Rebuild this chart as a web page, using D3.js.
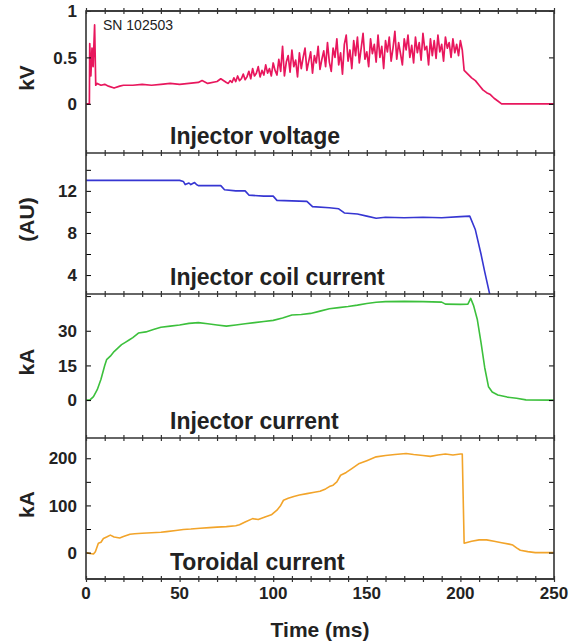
<!DOCTYPE html>
<html>
<head>
<meta charset="utf-8">
<script src="https://cdn.jsdelivr.net/npm/d3@7"></script>
<style>
	body { margin: 0; background: #fff; }
	svg { display: block; font-family: "Liberation Sans", Arial, sans-serif; }
</style>
</head>
<body>
<div id="wrapper"></div>
<script>
/////////////////////////////////////////////////
// data /////////////////////////////////////////
/////////////////////////////////////////////////

const shotLabel = "SN 102503";
const timeTicks = [0, 50, 100, 150, 200, 250];

// injector voltage (kV): slow part as [ms, kV]
const voltageStart = [
	[0, 0], [1.8, 0], [2, 0.65], [2.6, 0.3], [3.2, 0.6], [3.8, 0.4], [4.6, 0.85], [5.2, 0.2],
	[6, 0.22], [8, 0.2], [10, 0.21], [12, 0.19], [15, 0.17], [18, 0.19], [20, 0.2], [25, 0.2],
	[30, 0.21], [35, 0.2], [40, 0.21], [45, 0.22], [50, 0.21], [55, 0.22], [60, 0.23], [62, 0.25],
	[65, 0.22], [70, 0.24], [72, 0.27], [75, 0.23]
];
// bursty part, one sample per ms starting at 76 ms
const burstStart = 76;
const voltageBurst = [
	0.22, 0.25, 0.23, 0.28, 0.24, 0.30, 0.25, 0.27, 0.32, 0.26,
	0.29, 0.35, 0.27, 0.38, 0.30, 0.33, 0.40, 0.29, 0.36, 0.31,
	0.42, 0.33, 0.38, 0.30, 0.44, 0.36, 0.31, 0.48, 0.35, 0.62,
	0.30, 0.45, 0.52, 0.34, 0.58, 0.40, 0.47, 0.29, 0.55, 0.38,
	0.50, 0.60, 0.36, 0.46, 0.56, 0.33, 0.52, 0.44, 0.62, 0.37,
	0.48, 0.57, 0.40, 0.66, 0.45, 0.35, 0.60, 0.50, 0.70, 0.42,
	0.55, 0.32, 0.64, 0.74, 0.46, 0.58, 0.38, 0.68, 0.52, 0.72,
	0.44, 0.60, 0.76, 0.48, 0.56, 0.40, 0.70, 0.54, 0.64, 0.45,
	0.74, 0.50, 0.62, 0.38, 0.68, 0.56, 0.72, 0.46, 0.60, 0.78,
	0.48, 0.66, 0.54, 0.42, 0.70, 0.58, 0.74, 0.50, 0.63, 0.44,
	0.72, 0.55, 0.66, 0.47, 0.76, 0.58, 0.62, 0.42, 0.70, 0.52,
	0.68, 0.49, 0.74, 0.56, 0.64, 0.46, 0.72, 0.60, 0.66, 0.50,
	0.70, 0.55, 0.64, 0.52, 0.68, 0.58
];
const voltageEnd = [
	[202, 0.36], [204, 0.32], [206, 0.28], [208, 0.25], [210, 0.2], [212, 0.15], [214, 0.12],
	[216, 0.1], [218, 0.06], [220, 0.03], [222, 0], [250, 0]
];

// injector coil current (AU)
const coilCurrent = [
	[0, 13.0], [50, 13.0], [52, 12.9], [53, 12.6], [55, 12.75], [56, 12.6], [58, 12.8], [59, 12.6],
	[60, 12.5], [72, 12.5], [74, 12.1], [80, 12.0], [85, 12.0], [87, 11.6], [95, 11.5], [100, 11.5],
	[102, 11.1], [110, 11.05], [118, 11.0], [121, 10.5], [130, 10.4], [135, 10.3], [138, 9.9],
	[145, 9.8], [150, 9.6], [155, 9.4], [160, 9.5], [170, 9.45], [180, 9.5], [190, 9.45],
	[200, 9.55], [205, 9.6], [208, 8.3], [211, 6.0], [213, 4.3], [216, 1.9]
];

// injector current (kA)
const injectorCurrent = [
	[0, 0], [2, 0], [4, 1.5], [6, 4.5], [8, 9], [10, 15], [11, 17.5], [13, 19], [15, 21], [17, 22.5],
	[19, 24], [21, 25], [23, 26], [25, 27], [28, 29], [32, 29.5], [36, 30.5], [40, 31.5], [45, 32],
	[50, 32.5], [55, 33.2], [60, 33.5], [65, 33], [70, 32.5], [75, 32], [80, 32.5], [85, 33],
	[90, 33.5], [95, 34], [100, 34.5], [105, 35.5], [110, 36.8], [115, 37], [120, 37.5],
	[125, 38.5], [130, 39.5], [135, 40], [140, 40.5], [145, 41.1], [150, 41.8], [155, 42.3],
	[160, 42.6], [170, 42.7], [180, 42.6], [190, 42.4], [192, 41.5], [200, 41.4], [204, 41.5],
	[205.5, 44], [207, 41], [209, 35], [211, 25], [213, 14], [215, 5.8], [217, 3.5], [220, 2.2],
	[225, 1.3], [230, 0.8], [235, 0.1], [250, 0]
];

// toroidal current (kA)
const toroidalCurrent = [
	[0, 0], [2, -2], [4, -3], [5, 2], [6.6, 20], [8, 22], [9.3, 30], [11, 33], [13, 37], [15, 33],
	[18, 31], [20, 34], [23.5, 39], [26, 40], [30, 41], [35, 42], [40, 43], [43, 44.5], [48, 47],
	[52, 49], [56, 50], [61, 51.7], [66, 53], [70, 54], [75, 55], [80, 57], [82, 59], [85, 65],
	[89, 72], [92, 70], [96, 76], [99, 80], [102, 90], [104, 100], [105.5, 111], [108, 115],
	[111, 119], [114, 122], [118, 125], [122, 128], [125, 130], [128, 135], [130, 140], [132, 143],
	[134, 150], [136, 164], [139, 170], [142, 178], [146, 189], [150, 195], [155, 203], [160, 206],
	[165, 208], [171, 210], [175, 208], [180, 206], [184, 204], [188, 207], [192, 209], [196, 207],
	[200, 209], [201, 209], [202, 20], [206, 24], [210, 27], [214, 27], [218, 24], [222, 21],
	[226, 18], [228, 16], [230, 10], [232, 5], [236, 2], [240, 0], [250, 0]
];

const voltage = voltageStart
	.concat(voltageBurst.map((v, i) => [burstStart + i, v]))
	.concat(voltageEnd);

const panelLabels = ["Injector voltage", "Injector coil current", "Injector current", "Toroidal current"];
const unitLabels = ["kV", "(AU)", "kA", "kA"];
const yDomains = [[-0.53, 1], [2.2, 15.6], [-16.4, 45.9], [-56, 243]];
const yTickLabels = [[0, 0.5, 1], [4, 8, 12], [0, 15, 30], [0, 100, 200]];
const yTickMarks = [[0, 0.5, 1], [4, 6, 8, 10, 12, 14], [0, 15, 30, 45], [0, 50, 100, 150, 200]];
const seriesColors = ["#e8175d", "#3636d2", "#3cc03c", "#f2a42a"];

const series = [voltage, coilCurrent, injectorCurrent, toroidalCurrent];

/////////////////////////////////////////////////
// dimensions ///////////////////////////////////
/////////////////////////////////////////////////

const width = 582;
const height = 643;
const left = 86;
const right = 554;
const panelEdges = [11, 153, 294, 438, 579];

const svg = d3.select("#wrapper").append("svg")
	.attr("width", width)
	.attr("height", height);

const xScale = d3.scaleLinear().domain([0, 250]).range([left, right]);

/////////////////////////////////////////////////
// panels ///////////////////////////////////////
/////////////////////////////////////////////////

const defs = svg.append("defs");

series.forEach((data, i) => {
	const top = panelEdges[i];
	const bottom = panelEdges[i + 1];

	const yScale = d3.scaleLinear().domain(yDomains[i]).range([bottom, top]);

	defs.append("clipPath").attr("id", "clip" + i)
		.append("rect")
		.attr("x", left).attr("y", top)
		.attr("width", right - left).attr("height", bottom - top);

	const g = svg.append("g").attr("class", "panel");

	// trace
	const line = d3.line()
		.x((d) => xScale(d[0]))
		.y((d) => yScale(d[1]));

	g.append("path")
		.datum(data)
		.attr("clip-path", `url(#clip${i})`)
		.attr("fill", "none")
		.attr("stroke", seriesColors[i])
		.attr("stroke-width", i === 0 ? 1.7 : 1.6)
		.attr("stroke-linejoin", "round")
		.attr("d", line);

	// y ticks, inward on both sides
	const leftAxis = d3.axisRight(yScale)
		.tickValues(yTickMarks[i])
		.tickSize(5)
		.tickFormat("");
	g.append("g")
		.attr("transform", `translate(${left},0)`)
		.call(leftAxis)
		.call((s) => s.select(".domain").remove());

	const rightAxis = d3.axisLeft(yScale)
		.tickValues(yTickMarks[i])
		.tickSize(5)
		.tickFormat("");
	g.append("g")
		.attr("transform", `translate(${right},0)`)
		.call(rightAxis)
		.call((s) => s.select(".domain").remove());

	// y tick labels
	g.selectAll(".ylab")
		.data(yTickLabels[i])
		.join("text")
		.attr("class", "ylab")
		.attr("x", left - 9)
		.attr("y", (d) => yScale(d))
		.attr("dy", "0.36em")
		.attr("text-anchor", "end")
		.style("font-size", "17px")
		.style("font-weight", "bold")
		.style("fill", "#222")
		.text((d) => d);

	// unit label
	g.append("text")
		.attr("transform", `translate(26,${(top + bottom) / 2 - 4}) rotate(-90)`)
		.attr("text-anchor", "middle")
		.attr("dy", "0.36em")
		.style("font-size", "21px")
		.style("font-weight", "bold")
		.style("fill", "#222")
		.text(unitLabels[i]);

	// panel name
	g.append("text")
		.attr("x", 170)
		.attr("y", bottom - 9)
		.style("font-size", "23px")
		.style("font-weight", "bold")
		.style("fill", "#222")
		.text(panelLabels[i]);
});

/////////////////////////////////////////////////
// frame and time ticks /////////////////////////
/////////////////////////////////////////////////

svg.append("rect")
	.attr("x", left).attr("y", panelEdges[0])
	.attr("width", right - left).attr("height", panelEdges[4] - panelEdges[0])
	.attr("fill", "none")
	.attr("stroke", "#333")
	.attr("stroke-width", 1.6);

panelEdges.forEach((y) => {
	svg.append("line")
		.attr("x1", left).attr("x2", right)
		.attr("y1", y).attr("y2", y)
		.attr("stroke", "#333")
		.attr("stroke-width", 1.6);

	const timeAxis = d3.axisBottom(xScale)
		.ticks(25)
		.tickSizeInner(6)
		.tickSizeOuter(0)
		.tickFormat("");
	svg.append("g")
		.attr("transform", `translate(0,${y - 3})`)
		.call(timeAxis)
		.call((s) => s.select(".domain").remove())
		.selectAll("line")
		.attr("stroke", "#333")
		.attr("stroke-width", 1.2);
});

svg.selectAll(".xlab")
	.data(timeTicks)
	.join("text")
	.attr("class", "xlab")
	.attr("x", (d) => xScale(d))
	.attr("y", panelEdges[4] + 20)
	.attr("text-anchor", "middle")
	.style("font-size", "17px")
	.style("font-weight", "bold")
	.style("fill", "#222")
	.text((d) => d);

svg.append("text")
	.attr("x", (left + right) / 2)
	.attr("y", 637)
	.attr("text-anchor", "middle")
	.style("font-size", "21px")
	.style("font-weight", "bold")
	.style("fill", "#222")
	.text("Time (ms)");

svg.append("text")
	.attr("x", 103)
	.attr("y", 30)
	.style("font-size", "14px")
	.style("fill", "#222")
	.text(shotLabel);
</script>
</body>
</html>
